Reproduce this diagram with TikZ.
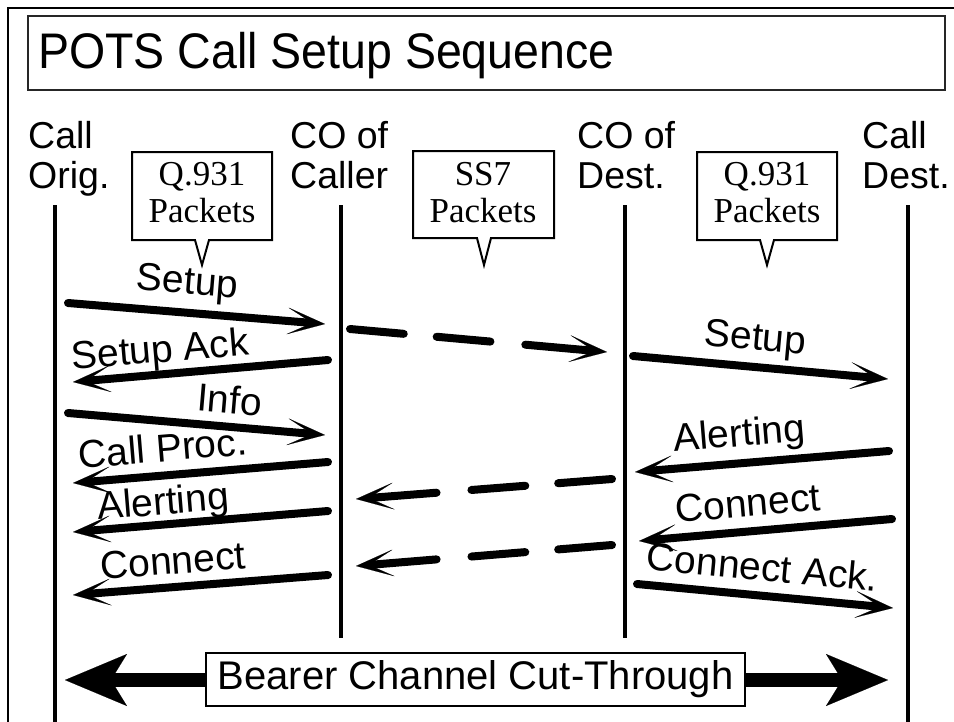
\documentclass[tikz,border=0pt]{standalone}
\usepackage{fontspec}
\setmainfont{Liberation Sans}
\newfontfamily\tmsfont{Liberation Serif}
\usetikzlibrary{arrows.meta,calc}
\tikzset{
 bigtip/.tip={Stealth[length=62pt,width=52pt,inset=16pt,line width=0.1pt]},
 msgtip/.tip={Stealth[length=38pt,width=27pt,inset=25pt,line width=0.1pt]},
}
\begin{document}
\begin{tikzpicture}[x=1pt,y=-1pt,
 msg/.style={line width=8pt, line cap=round, -msgtip},
 dshaft/.style={line width=8pt, line cap=round, dash pattern=on 54pt off 33pt},
 lbl/.style={font=\fontsize{39}{42}\selectfont, inner sep=0pt, sloped, anchor=base},
 hdr/.style={font=\fontsize{37.5}{40}\selectfont, inner sep=0pt, anchor=base west},
 ptxt/.style={font=\tmsfont\fontsize{35}{38}\selectfont, inner sep=0pt, anchor=base},
 callout/.style={line width=2pt, line join=miter, fill=white},
 life/.style={line width=4pt},
]
\useasboundingbox (0,0) rectangle (954,721);
\fill[white] (0,0) rectangle (954,721);
% frame
\draw[line width=2.5pt] (8,730) -- (8,8) -- (960,8);
% title
\draw[line width=1.2pt, black!85] (28,16) rectangle (945,90);
\node[anchor=base west, inner sep=0pt, font=\fontsize{50}{54}\selectfont] (title) at (38,68) {\scalebox{0.93}[1]{POTS Call Setup Sequence}};
% headers
\node[hdr] (o1) at (28,148) {Call};
\node[hdr] (o2) at (28,188) {Orig.};
\node[hdr] (c1) at (290,148) {CO of};
\node[hdr] (c2) at (290,188) {Caller};
\node[hdr] (d1) at (577,148) {CO of};
\node[hdr] (d2) at (577,188) {Dest.};
\node[hdr] (e1) at (862,148) {Call};
\node[hdr] (e2) at (862,188) {Dest.};
% lifelines
\coordinate (L1t) at (55,205);  \coordinate (L1b) at (55,725);
\coordinate (L2t) at (341,205); \coordinate (L2b) at (341,638);
\coordinate (L3t) at (625,205); \coordinate (L3b) at (625,638);
\coordinate (L4t) at (908,205); \coordinate (L4b) at (908,725);
\draw[life] (L1t) -- (L1b);
\draw[life] (L2t) -- (L2b);
\draw[life] (L3t) -- (L3b);
\draw[life] (L4t) -- (L4b);
% callouts
\draw[callout] (132,152) -- (272,152) -- (272,240) -- (209,240) -- (202,265) -- (195,240) -- (132,240) -- cycle;
\node[ptxt] (q1a) at (202,185) {Q.931};
\node[ptxt] (q1b) at (202,222) {Packets};
\draw[callout] (413,151) -- (554,151) -- (554,238) -- (491,238) -- (484,265) -- (477,238) -- (413,238) -- cycle;
\node[ptxt] (s7a) at (483,185) {SS7};
\node[ptxt] (s7b) at (483,222) {Packets};
\draw[callout] (697,152) -- (837,152) -- (837,240) -- (774,240) -- (767,265) -- (760,240) -- (697,240) -- cycle;
\node[ptxt] (q2a) at (767,185) {Q.931};
\node[ptxt] (q2b) at (767,222) {Packets};
% left messages
\coordinate (a1s) at (68,303);  \coordinate (a1e) at (325,324);
\coordinate (a2s) at (328,360); \coordinate (a2e) at (73,382);
\coordinate (a3s) at (68,413);  \coordinate (a3e) at (325,435);
\coordinate (a4s) at (328,462); \coordinate (a4e) at (73,483);
\coordinate (a5s) at (328,511); \coordinate (a5e) at (73,532);
\coordinate (a6s) at (328,575); \coordinate (a6e) at (73,595);
\draw[msg] (a1s) -- node[lbl, pos=.455, yshift=19pt] (t1) {Setup} (a1e);
\draw[msg] (a2s) -- node[lbl, pos=.65, yshift=12pt] (t2) {Setup Ack} (a2e);
\draw[msg] (a3s) -- node[lbl, pos=.62, yshift=13pt] (t3) {Info} (a3e);
\draw[msg] (a4s) -- node[lbl, pos=.64, yshift=14pt] (t4) {Call Proc.} (a4e);
\draw[msg] (a5s) -- node[lbl, pos=.64, yshift=10pt] (t5) {Alerting} (a5e);
\draw[msg] (a6s) -- node[lbl, pos=.6, yshift=13pt] (t6) {Connect} (a6e);
% dashed SS7 messages
\coordinate (s1s) at (350,329); \coordinate (s1e) at (607,352);
\coordinate (s2s) at (612,479); \coordinate (s2e) at (356,499);
\coordinate (s3s) at (612,545); \coordinate (s3e) at (356,566);
\draw[dshaft] (s1s) -- ($(s1s)!141pt!(s1e)$);
\draw[msg] ($(s1s)!176pt!(s1e)$) -- (s1e);
\draw[dshaft] (s2s) -- ($(s2s)!141pt!(s2e)$);
\draw[msg] ($(s2s)!176pt!(s2e)$) -- (s2e);
\draw[dshaft] (s3s) -- ($(s3s)!141pt!(s3e)$);
\draw[msg] ($(s3s)!176pt!(s3e)$) -- (s3e);
% right messages
\coordinate (b1s) at (633,356); \coordinate (b1e) at (888,379);
\coordinate (b2s) at (889,451); \coordinate (b2e) at (635,472);
\coordinate (b3s) at (892,519); \coordinate (b3e) at (639,541);
\coordinate (b4s) at (637,584); \coordinate (b4e) at (893,608);
\draw[msg] (b1s) -- node[lbl, pos=.47, yshift=17pt] (u1) {Setup} (b1e);
\draw[msg] (b2s) -- node[lbl, pos=.58, yshift=17pt] (u2) {Alerting} (b2e);
\draw[msg] (b3s) -- node[lbl, pos=.56, yshift=15pt] (u3) {Connect} (b3e);
\draw[msg] (b4s) -- node[lbl, pos=.48, yshift=15pt] (u4) {Connect Ack.} (b4e);
% bearer
\coordinate (bl) at (65,680); \coordinate (br) at (888,680);
\draw[line width=14pt, bigtip-bigtip] (bl) -- (br);
\node[draw, fill=white, line width=1.8pt, inner sep=0pt, minimum width=539pt, minimum height=53pt, font=\fontsize{40}{44}\selectfont] (bearer) at (475.5,679.5) {Bearer Channel Cut-Through};
\end{tikzpicture}
\end{document}
